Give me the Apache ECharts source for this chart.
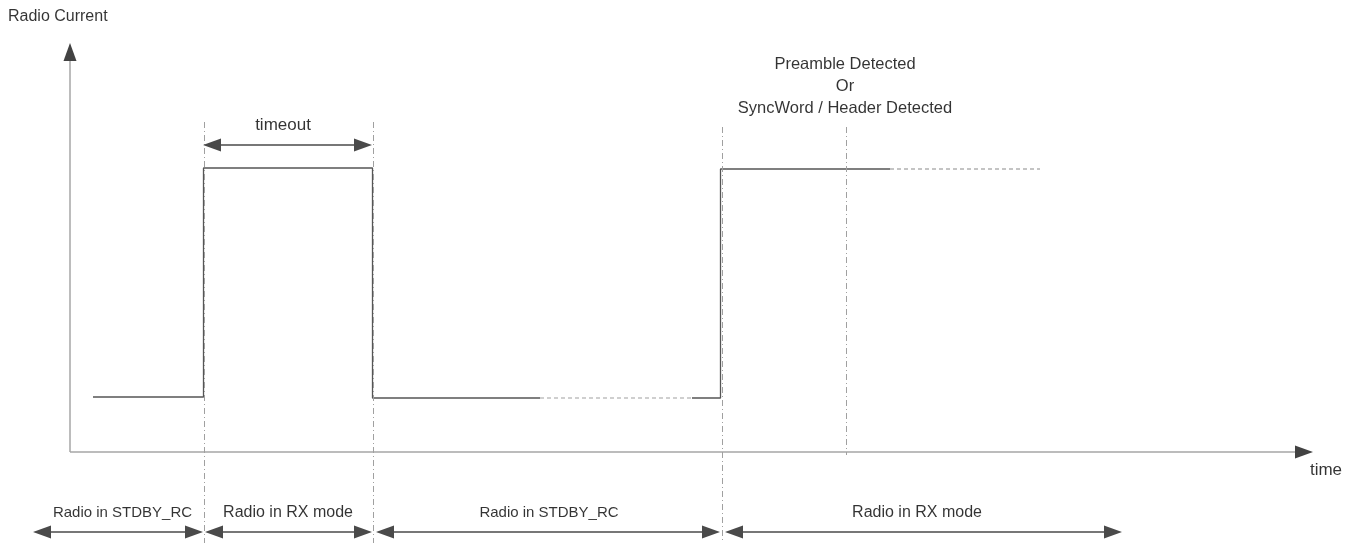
<!DOCTYPE html>
<html>
<head>
<meta charset="utf-8">
<script src="https://cdn.jsdelivr.net/npm/echarts@6/dist/echarts.min.js"></script>
<style>
html,body{margin:0;padding:0;background:#fff;}
#chart{width:1355px;height:543px;}
</style>
</head>
<body>
<div id="chart"></div>
<script>
// ---- Data (time units on x, current units on y; origin = axis corner) ----
const lowCurrent = 55;
const highCurrent = 284;
// radio current waveform, solid parts
const waveSolidA = [[23, 55], [133.5, 55], [133.5, 284], [302.5, 284], [302.5, 54], [470, 54]];
const waveSolidB = [[622, 54], [650.5, 54], [650.5, 283], [820, 283]];
// continuation (dashed) parts
const waveDashA = [[470, 54], [622, 54]];
const waveDashB = [[820, 283], [970, 283]];
// event markers (dash-dot verticals): [time, top, bottom]
const eventMarkers = [[134, 330, -91], [303.5, 330, -91], [652, 325, -91], [776, 325, -3]];
// duration arrows: [startTip, endTip, level]
const timeoutArrow = [133, 302, 307];
const stateArrows = [[-37, 133, -80], [135, 302, -80], [306, 650, -80], [655, 1052, -80]];
// state labels under the time axis
const stateLabels = ['Radio in STDBY_RC', 'Radio in RX mode', 'Radio in STDBY_RC', 'Radio in RX mode'];
const stateLabelX = [52.5, 218, 479, 847];
const stateLabelY = -61;
// axes extents (tips)
const yAxisTip = 409;
const xAxisTip = 1243;
// annotation texts
const yAxisTitle = 'Radio Current';
const xAxisTitle = 'time';
const timeoutText = 'timeout';
const detectText = 'Preamble Detected\nOr\nSyncWord / Header Detected';

const HEAD = 9; // half arrow head length
const FONT = 'Liberation Sans';
const DARK = '#424242';

const marks = [];
// axes: light line + dark head
marks.push([{coord: [0, 0], lineStyle: {color: '#a6a6a6', width: 1.5, type: 'solid'}}, {coord: [0, yAxisTip - HEAD]}]);
marks.push([{coord: [0, yAxisTip - HEAD - 1], lineStyle: {color: DARK, width: 1, type: 'solid'}}, {coord: [0, yAxisTip - HEAD], symbol: 'triangle', symbolSize: [13, 18]}]);
marks.push([{coord: [0, 0], lineStyle: {color: '#a6a6a6', width: 1.5, type: 'solid'}}, {coord: [xAxisTip - HEAD, 0]}]);
marks.push([{coord: [xAxisTip - HEAD - 1, 0], lineStyle: {color: DARK, width: 1, type: 'solid'}}, {coord: [xAxisTip - HEAD, 0], symbol: 'triangle', symbolSize: [13, 18]}]);
// event markers
eventMarkers.forEach(function (m) {
  marks.push([{coord: [m[0], m[1]], lineStyle: {color: '#a0a0a0', width: 1, type: [6, 3, 1, 3]}}, {coord: [m[0], m[2]]}]);
});
// double arrows
function dbl(a) {
  marks.push([
    {coord: [a[0] + HEAD, a[2]], symbol: 'triangle', symbolSize: [13, 18], lineStyle: {color: '#4a4a4a', width: 1.5, type: 'solid'}},
    {coord: [a[1] - HEAD, a[2]], symbol: 'triangle', symbolSize: [13, 18]}
  ]);
}
dbl(timeoutArrow);
stateArrows.forEach(dbl);

const stateFont = [15, 16, 15, 16];
const textData = [];
textData.push({value: [-62, 435], label: {formatter: yAxisTitle, align: 'left', fontSize: 16}});
textData.push({value: [1256, -18], label: {formatter: xAxisTitle, fontSize: 17}});
textData.push({value: [213, 327], label: {formatter: timeoutText, fontSize: 17}});
textData.push({value: [775, 366], label: {formatter: detectText, fontSize: 16.5, lineHeight: 22}});
stateLabels.forEach(function (t, i) {
  textData.push({value: [stateLabelX[i], stateLabelY], label: {formatter: t, fontSize: stateFont[i]}});
});

const chart = echarts.init(document.getElementById('chart'), null, {renderer: 'canvas'});
chart.setOption({
  animation: false,
  backgroundColor: '#ffffff',
  grid: {left: 0, right: 0, top: 0, bottom: 0},
  xAxis: {type: 'value', min: -70, max: 1285, show: false},
  yAxis: {type: 'value', min: -91, max: 452, show: false},
  series: [
    {type: 'line', data: waveSolidA, showSymbol: false, symbol: 'none', lineStyle: {color: '#555555', width: 1.3}, silent: true,
      markLine: {silent: true, symbol: ['none', 'none'], label: {show: false}, emphasis: {disabled: true}, animation: false, data: marks}},
    {type: 'line', data: waveSolidB, showSymbol: false, symbol: 'none', lineStyle: {color: '#555555', width: 1.3}, silent: true},
    {type: 'line', data: waveDashA, showSymbol: false, symbol: 'none', lineStyle: {color: '#a0a0a0', width: 1.2, type: [4, 3]}, silent: true},
    {type: 'line', data: waveDashB, showSymbol: false, symbol: 'none', lineStyle: {color: '#8a8a8a', width: 1.2, type: [4, 3]}, silent: true},
    {type: 'scatter', data: textData, symbolSize: 0, silent: true,
      label: {show: true, position: 'inside', color: '#000000', fontFamily: FONT, fontSize: 15}}
  ]
});
</script>
</body>
</html>
